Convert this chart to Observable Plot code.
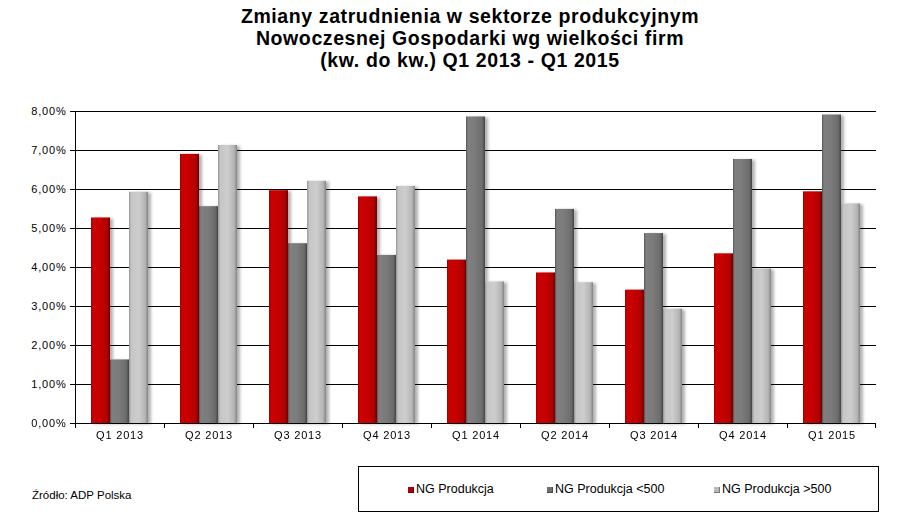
<!DOCTYPE html>
<html>
<head>
<meta charset="utf-8">
<script src="https://cdn.jsdelivr.net/npm/d3@7"></script>
<script src="https://cdn.jsdelivr.net/npm/@observablehq/plot@0.6"></script>
<style>
  body { margin: 0; background: #fff; font-family: Arial, "Liberation Sans", sans-serif; }
  #wrap { position: relative; width: 898px; height: 518px; overflow: hidden; background: #fff; }
  #title { position: absolute; left: 21px; top: 5px; width: 898px; text-align: center; font-weight: bold;
           font-size: 19.5px; line-height: 22px; letter-spacing: 0.6px; color: #000; }
  #chart { position: absolute; left: 0; top: 95px; }
  #chart text { letter-spacing: 0.8px; }
  #source { position: absolute; left: 32px; top: 488px; font-size: 11.5px; line-height: 14px; color: #000; }
  #legend { position: absolute; left: 358px; top: 466px; width: 519px; height: 44px; border: 1px solid #000; }
  .lg-item { position: absolute; top: 15px; font-size: 12.5px; line-height: 15px; white-space: nowrap; color: #000; }
  .lg-sw { position: absolute; top: 5px; width: 6px; height: 6px; }
</style>
</head>
<body>
<div id="wrap">
  <div id="title"></div>
  <div id="chart"></div>
  <div id="source"></div>
  <div id="legend"></div>
</div>
<script>
const titleLines = ["Zmiany zatrudnienia w sektorze produkcyjnym", "Nowoczesnej Gospodarki wg wielkości firm", "(kw. do kw.) Q1 2013 - Q1 2015"];
const sourceText = "Źródło: ADP Polska";
const quarters = ["Q1 2013", "Q2 2013", "Q3 2013", "Q4 2013", "Q1 2014", "Q2 2014", "Q3 2014", "Q4 2014", "Q1 2015"];
const series = ["NG Produkcja", "NG Produkcja <500", "NG Produkcja >500"];
const prod = [5.27, 6.90, 5.97, 5.81, 4.19, 3.86, 3.42, 4.35, 5.94];
const small = [1.63, 5.56, 4.61, 4.31, 7.86, 5.49, 4.87, 6.77, 7.91];
const large = [5.93, 7.13, 6.21, 6.08, 3.63, 3.61, 2.93, 3.96, 5.63];
const yTicks = [0, 1, 2, 3, 4, 5, 6, 7, 8];

const seriesValues = [prod, small, large];
const data = quarters.flatMap((q, i) => series.map((s, j) => ({quarter: q, series: s, value: seriesValues[j][i]})));
const fmt = d => d.toFixed(2).replace(".", ",") + "%";

document.getElementById("title").innerHTML = titleLines.join("<br>");
document.getElementById("source").textContent = sourceText;

const gradIds = ["gRed", "gDark", "gLight"];
const legendSwatch = ["#b00000", "#707070", "#b8b8b8"];
const legendLeft = [49, 188, 355];
const legend = d3.select("#legend");
series.forEach((s, i) => {
  const it = legend.append("div").attr("class", "lg-item").style("left", legendLeft[i] + "px");
  it.append("div").attr("class", "lg-sw").style("left", "0px").style("background", legendSwatch[i])
    .style("box-shadow", "inset -1px -1px 0 rgba(0,0,0,0.35)");
  it.append("span").style("margin-left", "8px").text(s);
});

const boundaryTicks = Plot.ruleY(quarters, {
  fx: d => d,
  y: () => 0,
  render: (index, scales, values, dim) => {
    const g = d3.create("svg:g").attr("stroke", "#000").attr("stroke-width", 1);
    const y0 = dim.height - dim.marginBottom;
    const xl = dim.marginLeft, xr = dim.width - dim.marginRight;
    const q = quarters[index[0]];
    g.append("line").attr("x1", xl + 0.5).attr("x2", xl + 0.5).attr("y1", y0).attr("y2", y0 + 5);
    if (q === quarters[0]) {
      g.append("line").attr("x1", xl + 0.5).attr("x2", xl + 0.5).attr("y1", dim.marginTop).attr("y2", y0);
    }
    if (q === quarters[quarters.length - 1]) {
      g.append("line").attr("x1", xr - 0.5).attr("x2", xr - 0.5).attr("y1", y0).attr("y2", y0 + 5);
    }
    return g.node();
  }
});

const chart = Plot.plot({
  width: 898,
  height: 353,
  marginTop: 16,
  marginBottom: 25,
  marginLeft: 74,
  marginRight: 22,
  style: {fontFamily: "Arial, 'Liberation Sans', sans-serif", fontSize: "11px", color: "#000", background: "transparent", overflow: "visible"},
  fx: {domain: quarters, padding: 0, label: null},
  x: {domain: series, axis: null, paddingInner: 0, paddingOuter: 0.83},
  y: {domain: [0, 8], label: null},
  color: {domain: series, range: gradIds.map(id => `url(#${id})`)},
  marks: [
    Plot.gridY(yTicks, {stroke: "#000", strokeOpacity: 1, strokeWidth: 1}),
    Plot.barY(data, {fx: "quarter", x: "series", y: "value", fill: "series"}),
    Plot.ruleY([0], {stroke: "#000", strokeWidth: 1}),
    Plot.axisY(yTicks, {tickSize: 5, tickPadding: 4, tickFormat: fmt, fontSize: 11, stroke: "#000"}),
    Plot.axisFx({anchor: "bottom", tickSize: 0, tickPadding: 8, fontSize: 11, label: null}),
    boundaryTicks
  ]
});

const svg = d3.select(chart);
const defs = svg.insert("defs", ":first-child");
const gradStops = {
  gRed: [[0, "#9a0000"], [0.1, "#cc0000"], [0.5, "#c40000"], [0.85, "#b00000"], [1, "#6a0000"]],
  gDark: [[0, "#555"], [0.1, "#808080"], [0.5, "#7a7a7a"], [0.85, "#6c6c6c"], [1, "#454545"]],
  gLight: [[0, "#959595"], [0.12, "#c6c6c6"], [0.5, "#cdcdcd"], [0.85, "#b5b5b5"], [1, "#838383"]]
};
for (const id of gradIds) {
  const lg = defs.append("linearGradient").attr("id", id).attr("x1", 0).attr("x2", 1).attr("y1", 0).attr("y2", 0);
  for (const [o, c] of gradStops[id]) lg.append("stop").attr("offset", o).attr("stop-color", c);
}
const flt = defs.append("filter").attr("id", "shadow").attr("x", "-20%").attr("y", "-5%").attr("width", "160%").attr("height", "110%");
flt.append("feDropShadow").attr("dx", 3).attr("dy", 1).attr("stdDeviation", 1.8).attr("flood-color", "#000").attr("flood-opacity", 0.3);
svg.selectAll('g[aria-label="bar"]').attr("filter", "url(#shadow)");

document.getElementById("chart").appendChild(chart);
</script>
</body>
</html>
